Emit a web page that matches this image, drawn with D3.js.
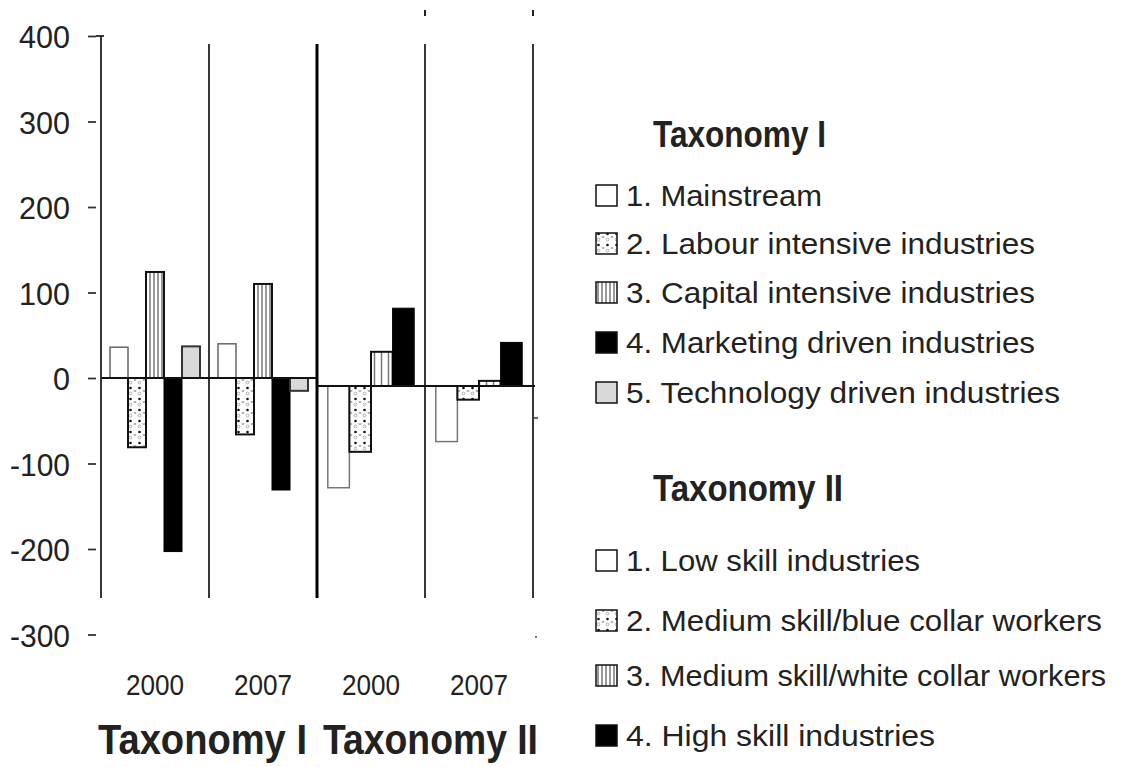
<!DOCTYPE html>
<html>
<head>
<meta charset="utf-8">
<script src="https://cdn.jsdelivr.net/npm/d3@7"></script>
<style>
  html, body { margin: 0; padding: 0; background: #fff; }
  svg { display: block; }
  text { font-family: "Liberation Sans", Arial, sans-serif; fill: #222; }
</style>
</head>
<body>
<svg id="chart" width="1121" height="767"></svg>
<script>
// ---------- data ----------
const groupsI = ["2000", "2007"];
const seriesI = [
  "1. Mainstream",
  "2. Labour intensive industries",
  "3. Capital intensive industries",
  "4. Marketing driven industries",
  "5. Technology driven industries"
];
const valuesI2000 = [36, -81, 124, -203, 37];
const valuesI2007 = [40, -66, 110, -131, -15];

const groupsII = ["2000", "2007"];
const seriesII = [
  "1. Low skill industries",
  "2. Medium skill/blue collar workers",
  "3. Medium skill/white collar workers",
  "4. High skill industries"
];
const valuesII2000 = [-119, -77, 40, 91];
const valuesII2007 = [-65, -16, 6, 51];

const yTicks = [400, 300, 200, 100, 0, -100, -200, -300];
const panelTitles = ["Taxonomy I", "Taxonomy II"];

// ---------- setup ----------
const svg = d3.select("#chart");
const defs = svg.append("defs");

const pDots = defs.append("pattern").attr("id", "dots")
  .attr("patternUnits", "userSpaceOnUse").attr("width", 9).attr("height", 11);
pDots.append("rect").attr("width", 9).attr("height", 11).attr("fill", "#fff");
pDots.append("circle").attr("cx", 4.5).attr("cy", 3).attr("r", 1.3).attr("fill", "#111");
pDots.append("circle").attr("cx", 4.5).attr("cy", 8.5).attr("r", 1.4).attr("fill", "none").attr("stroke", "#999").attr("stroke-width", 0.8);
pDots.append("circle").attr("cx", 0.5).attr("cy", 6).attr("r", 0.9).attr("fill", "#aaa");
pDots.append("circle").attr("cx", 8.5).attr("cy", 6).attr("r", 0.9).attr("fill", "#aaa");

function stripes(id, w) {
  const p = defs.append("pattern").attr("id", id)
    .attr("patternUnits", "userSpaceOnUse").attr("width", w).attr("height", 10);
  p.append("rect").attr("width", w).attr("height", 10).attr("fill", "#fff");
  p.append("rect").attr("x", w / 2 - 0.75).attr("width", 1.5).attr("height", 10).attr("fill", "#777");
}
stripes("stripesA", 4);
stripes("stripesB", 7);

const styleI = [
  { fill: "#fff", stroke: "#666", sw: 1.5 },
  { fill: "url(#dots)", stroke: "#111", sw: 2 },
  { fill: "url(#stripesA)", stroke: "#111", sw: 2 },
  { fill: "#000", stroke: "#000", sw: 1 },
  { fill: "#d9d9d9", stroke: "#333", sw: 2 }
];
const styleII = [
  { fill: "#fff", stroke: "#777", sw: 1.5 },
  { fill: "url(#dots)", stroke: "#111", sw: 2 },
  { fill: "url(#stripesB)", stroke: "#111", sw: 2 },
  { fill: "#000", stroke: "#000", sw: 1 }
];

// ---------- scales ----------
const xI = d3.scaleBand().domain(groupsI).range([101, 317]);
const xIin = d3.scaleBand().domain(seriesI).range([0, xI.bandwidth()]).paddingOuter(0.5);
const xII = d3.scaleBand().domain(groupsII).range([317, 533]);
const xIIin = d3.scaleBand().domain(seriesII).range([0, xII.bandwidth()]).paddingOuter(0.5);
const yI = d3.scaleLinear().domain([-300, 400]).range([634.5, 36]);
const yII = d3.scaleLinear().domain([-300, 400]).range([642.5, 44]);

// ---------- bars ----------
function drawPanel(groups, series, valuesByGroup, x, xin, y, styles) {
  groups.forEach((g, gi) => {
    const vals = valuesByGroup[gi];
    svg.append("g").selectAll("rect")
      .data(vals)
      .join("rect")
      .attr("x", (d, i) => x(g) + xin(series[i]))
      .attr("width", xin.bandwidth())
      .attr("y", d => y(Math.max(0, d)))
      .attr("height", d => Math.abs(y(d) - y(0)))
      .attr("fill", (d, i) => styles[i].fill)
      .attr("stroke", (d, i) => styles[i].stroke)
      .attr("stroke-width", (d, i) => styles[i].sw);
  });
}
drawPanel(groupsI, seriesI, [valuesI2000, valuesI2007], xI, xIin, yI, styleI);
drawPanel(groupsII, seriesII, [valuesII2000, valuesII2007], xII, xIIin, yII, styleII);

// ---------- frame lines ----------
const bottomY = 598;
svg.append("line").attr("x1", xI("2007")).attr("x2", xI("2007")).attr("y1", 44).attr("y2", bottomY).attr("stroke", "#222").attr("stroke-width", 1.8);
svg.append("line").attr("x1", xII("2000")).attr("x2", xII("2000")).attr("y1", 44).attr("y2", bottomY).attr("stroke", "#000").attr("stroke-width", 3);
[xII("2007"), xII.range()[1]].forEach(x => svg.append("line").attr("x1", x).attr("x2", x).attr("y1", 44).attr("y2", bottomY).attr("stroke", "#222").attr("stroke-width", 1.8));
svg.append("line").attr("x1", 101).attr("x2", 317).attr("y1", yI(0)).attr("y2", yI(0)).attr("stroke", "#111").attr("stroke-width", 2);
svg.append("line").attr("x1", 317).attr("x2", 535).attr("y1", yII(0)).attr("y2", yII(0)).attr("stroke", "#111").attr("stroke-width", 2);

[xII("2007"), xII.range()[1]].forEach(x => svg.append("line").attr("x1", x).attr("x2", x).attr("y1", 10).attr("y2", 16).attr("stroke", "#222").attr("stroke-width", 2));
svg.append("line").attr("x1", 533).attr("x2", 538).attr("y1", 418).attr("y2", 418).attr("stroke", "#333").attr("stroke-width", 1.5);
svg.append("circle").attr("cx", 536).attr("cy", 637).attr("r", 1).attr("fill", "#444");

// ---------- y axis ----------
svg.append("line").attr("x1", 101).attr("x2", 101).attr("y1", yI(400)).attr("y2", bottomY).attr("stroke", "#222").attr("stroke-width", 1.8);
svg.append("line").attr("x1", 96).attr("x2", 104).attr("y1", yI(400)).attr("y2", yI(400)).attr("stroke", "#222").attr("stroke-width", 1.8);
const axis = d3.axisLeft(yI).tickValues(yTicks).tickSize(8).tickPadding(18).tickFormat(d => String(d));
const ag = svg.append("g").attr("transform", "translate(96,0)").call(axis);
ag.select(".domain").remove();
ag.selectAll(".tick line").attr("stroke", "#333").attr("stroke-width", 1.8);
ag.selectAll(".tick text")
  .attr("fill", "#222")
  .style("font-family", '"Liberation Sans", Arial, sans-serif')
  .style("font-size", "32px")
  .attr("dy", "0.36em")
  .attr("textLength", d => { const s = String(d); return s.replace("-", "").length * 17 + (d < 0 ? 9 : 0); })
  .attr("lengthAdjust", "spacingAndGlyphs");

// ---------- x labels ----------
const xLabels = [
  ...groupsI.map(g => ({ t: g, x: xI(g) + xI.bandwidth() / 2 })),
  ...groupsII.map(g => ({ t: g, x: xII(g) + xII.bandwidth() / 2 }))
];
svg.append("g").selectAll("text").data(xLabels).join("text")
  .attr("x", d => d.x).attr("y", 695)
  .attr("text-anchor", "middle")
  .style("font-size", "29px")
  .attr("textLength", 58).attr("lengthAdjust", "spacingAndGlyphs")
  .text(d => d.t);

svg.append("text").attr("x", 98).attr("y", 754)
  .style("font-size", "42px").style("font-weight", "bold")
  .attr("textLength", 209).attr("lengthAdjust", "spacingAndGlyphs")
  .attr("fill", "#000")
  .text(panelTitles[0]);
svg.append("text").attr("x", 323).attr("y", 754)
  .style("font-size", "42px").style("font-weight", "bold")
  .attr("textLength", 215).attr("lengthAdjust", "spacingAndGlyphs")
  .attr("fill", "#000")
  .text(panelTitles[1]);

// ---------- legends ----------
function legend(title, titleY, titleLen, series, styles, baselines, ends) {
  svg.append("text").attr("x", 653).attr("y", titleY)
    .style("font-size", "37px").style("font-weight", "bold")
    .attr("textLength", titleLen).attr("lengthAdjust", "spacingAndGlyphs")
    .attr("fill", "#000")
    .text(title);
  const g = svg.append("g");
  g.selectAll("rect").data(series).join("rect")
    .attr("x", 596).attr("y", (d, i) => baselines[i] - 21)
    .attr("width", 21).attr("height", 21)
    .attr("fill", (d, i) => styles[i].fill === "url(#stripesB)" ? "url(#stripesA)" : styles[i].fill)
    .attr("stroke", "#111").attr("stroke-width", 1.5);
  g.selectAll("text").data(series).join("text")
    .attr("x", 626).attr("y", (d, i) => baselines[i])
    .style("font-size", "30px")
    .attr("textLength", (d, i) => ends[i] - 626).attr("lengthAdjust", "spacingAndGlyphs")
    .text(d => d);
}
legend(panelTitles[0], 147, 173, seriesI, styleI, [206, 254, 303, 353, 403], [822, 1035, 1035, 1035, 1060]);
legend(panelTitles[1], 501, 190, seriesII, styleII, [571, 631, 686, 746], [920, 1102, 1106, 935]);
</script>
</body>
</html>
